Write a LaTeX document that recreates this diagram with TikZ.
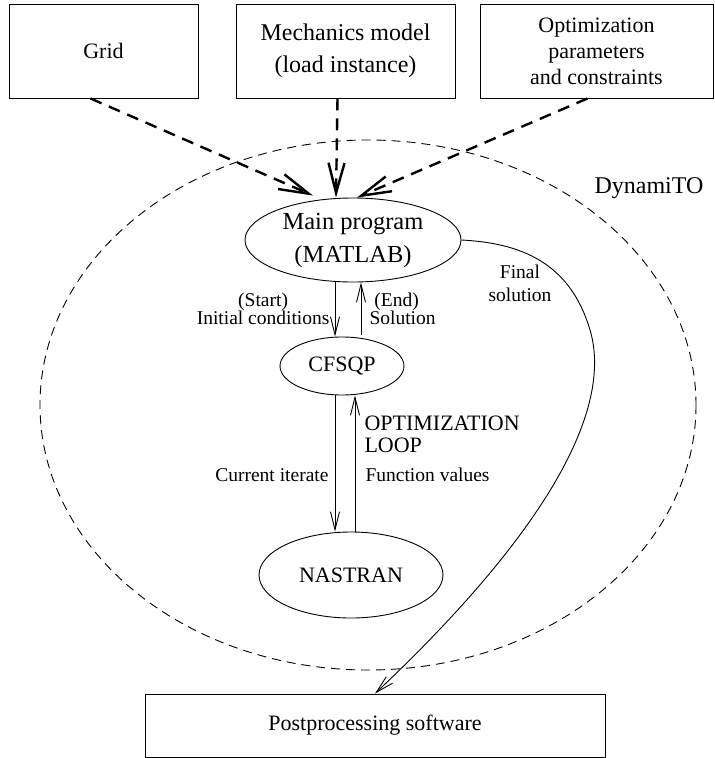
\documentclass[tikz,border=0pt]{standalone}
\usepackage{fontspec}
\setmainfont{Liberation Serif}
\usetikzlibrary{arrows.meta,shapes.geometric}
\tikzset{
  big/.style={font=\fontsize{22}{30}\selectfont},
  small/.style={font=\fontsize{19.5}{18}\selectfont},
  box/.style={draw,line width=0.9pt,rectangle,inner sep=0pt,big,align=center},
  oval/.style={draw,line width=0.9pt,ellipse,inner sep=0pt,big,align=center},
  heavy/.style={line width=2.4pt,dash pattern=on 12pt off 8pt,
    -{Straight Barb[length=30pt,width=16pt,line width=2.4pt]}},
  thin/.style={line width=0.9pt,-{Straight Barb[length=18pt,width=9pt,line width=0.9pt]}}
}
\begin{document}
\begin{tikzpicture}[x=1pt,y=-1pt]
\useasboundingbox (0,0) rectangle (715,758);
% outer dashed ellipse
\draw[line width=0.9pt,dash pattern=on 9pt off 6pt] (368,405) ellipse [x radius=328,y radius=265];
\node[big,font=\fontsize{24}{28}\selectfont] (dyn) at (649,188) {DynamiTO};
% top boxes
\node[box,minimum width=189pt,minimum height=94pt] (grid) at (103.5,51) {Grid};
\node[box,minimum width=219pt,minimum height=94pt,font=\fontsize{24}{32}\selectfont] (mech) at (345.5,51) {Mechanics model\\(load instance)};
\node[box,minimum width=233pt,minimum height=94pt,font=\fontsize{22}{26}\selectfont] (opt) at (596.5,51) {Optimization\\parameters\\and constraints};
% ellipses
\node[oval,minimum width=216pt,minimum height=84pt,font=\fontsize{24.5}{33}\selectfont] (main) at (353,240) {Main program\\(MATLAB)};
\node[oval,minimum width=124pt,minimum height=58pt] (cf) at (342,366) {CFSQP};
\node[oval,minimum width=184pt,minimum height=86pt] (nas) at (351,575) {NASTRAN};
% bottom box
\node[box,minimum width=460pt,minimum height=63pt] (post) at (375,725.5) {Postprocessing software};
% dashed arrows
\draw[heavy] ([xshift=-13pt]grid.south) -- ([xshift=-40pt,yshift=2pt]main.north);
\draw[heavy] ([xshift=-8pt]mech.south) -- ([xshift=-17pt]main.north);
\draw[heavy] ([xshift=-9pt]opt.south) -- ([xshift=4pt]main.north);
% main <-> cfsqp
\draw[thin] ([xshift=-18pt]main.south) -- ([xshift=-7pt]cf.north);
\draw[thin] ([xshift=19pt,yshift=1.4pt]cf.north) -- ([xshift=8pt]main.south);
\node[small,align=center,anchor=east] (lstart) at (333,309) {(Start)\\Initial conditions};
\node[small,align=left,anchor=west] (lend) at (366,309) {\ (End)\\Solution};
% loop
\draw[thin] ([xshift=-7pt]cf.south) -- ([xshift=-16pt]nas.north);
\draw[thin] ([xshift=4pt]nas.north) -- ([xshift=13pt]cf.south);
\node[big,align=left,anchor=west,font=\fontsize{22}{22}\selectfont] (loop) at (361,434) {OPTIMIZATION\\LOOP};
\node[small,anchor=east] (lcur) at (332,475) {Current iterate};
\node[small,anchor=west] (lfun) at (362,475) {Function values};
% final solution
\coordinate (fbend) at (590,330);
\draw[thin] (main.east) .. controls (520,243) and (570,262) .. (fbend)
  .. controls (608,390) and (580,500) .. (post.north);
\node[small,align=center,font=\fontsize{19.5}{23}\selectfont] (lfin) at (520,283) {Final\\solution};
\end{tikzpicture}
\end{document}
